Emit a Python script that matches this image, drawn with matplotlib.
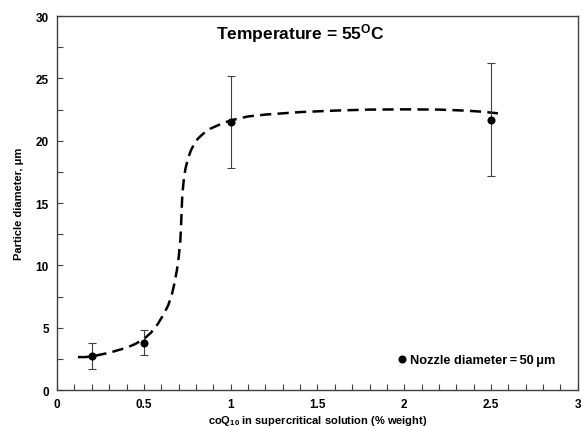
import matplotlib
matplotlib.use('Agg')
import matplotlib.pyplot as plt
from matplotlib.ticker import MultipleLocator

plt.rcParams['font.family'] = ['Liberation Sans', 'DejaVu Sans']
plt.rcParams['mathtext.fontset'] = 'custom'
plt.rcParams['mathtext.rm'] = 'Liberation Sans:bold'
plt.rcParams['mathtext.bf'] = 'Liberation Sans:bold'
plt.rcParams['mathtext.it'] = 'Liberation Sans:bold'

# measured particle sizes
conc = [0.2, 0.5, 1.0, 2.5]
diam = [2.75, 3.8, 21.5, 21.7]
diam_err = [1.05, 1.0, 3.7, 4.5]

# hand-traced trend line
trend_x = [0.12, 0.16, 0.2, 0.25, 0.3, 0.35, 0.4, 0.45, 0.5, 0.54, 0.58, 0.61, 0.64,
           0.66, 0.675, 0.69, 0.70, 0.71, 0.715, 0.72, 0.725, 0.73, 0.74, 0.755,
           0.77, 0.79, 0.81, 0.84, 0.88, 0.92, 0.96, 1.02, 1.1, 1.2, 1.3, 1.4,
           1.6, 1.8, 2.0, 2.2, 2.35, 2.45, 2.54]
trend_y = [2.65, 2.65, 2.7, 2.85, 3.0, 3.2, 3.4, 3.7, 4.1, 4.6, 5.3, 6.0, 6.8,
           7.6, 8.5, 9.6, 10.6, 12.0, 13.5, 15.3, 16.2, 16.9, 17.8, 18.6,
           19.2, 19.75, 20.15, 20.55, 20.95, 21.2, 21.45, 21.7, 21.95, 22.1, 22.2, 22.3,
           22.42, 22.5, 22.52, 22.5, 22.42, 22.33, 22.2]

fig = plt.figure(figsize=(5.83, 4.27), dpi=100)
ax = fig.add_axes([0.098, 0.084, 0.893, 0.876])

ax.plot(trend_x, trend_y, color='black', linestyle=(0, (4.5, 2.5)), linewidth=1.8, zorder=2)
ax.errorbar(conc, diam, yerr=diam_err, fmt='none', ecolor='#404040',
            elinewidth=0.8, capsize=3, capthick=0.8, zorder=3)
ax.plot(conc, diam, 'o', color='black', markersize=4.8, zorder=4,
        label='Nozzle diameter\u2009=\u200950\u2009\u03bcm')

ax.set_xlim(0, 3)
ax.set_ylim(0, 30)
ax.xaxis.set_major_locator(MultipleLocator(0.5))
ax.xaxis.set_minor_locator(MultipleLocator(0.1))
ax.yaxis.set_major_locator(MultipleLocator(5))
ax.yaxis.set_minor_locator(MultipleLocator(2.5))
ax.xaxis.set_major_formatter(plt.FuncFormatter(lambda v, p: f'{v:g}'))
ax.tick_params(which='both', direction='in', length=4, width=0.8, color='#404040')
ax.tick_params(which='major', labelsize=8.5, pad=6)
for lab in ax.get_xticklabels() + ax.get_yticklabels():
    lab.set_fontweight('bold')
for s in ax.spines.values():
    s.set_color('#404040')
    s.set_linewidth(1.0)

ax.set_xlabel(r'coQ$_{10}$ in supercritical solution (% weight)', fontsize=8, fontweight='bold', labelpad=2)
ax.set_ylabel('Particle diameter, \u03bcm', fontsize=8, fontweight='bold', labelpad=8)

ax.text(1.4, 28.7, r'Temperature = 55$^{\mathrm{O}}$C', fontsize=12.5, fontweight='bold',
        ha='center', va='center')

ax.legend(loc='center left', bbox_to_anchor=(0.645, 0.08), frameon=False,
          handlelength=0.6, handletextpad=0.3, borderaxespad=0,
          prop={'weight': 'bold', 'size': 9.2})

fig.savefig('out.png', dpi=100)
